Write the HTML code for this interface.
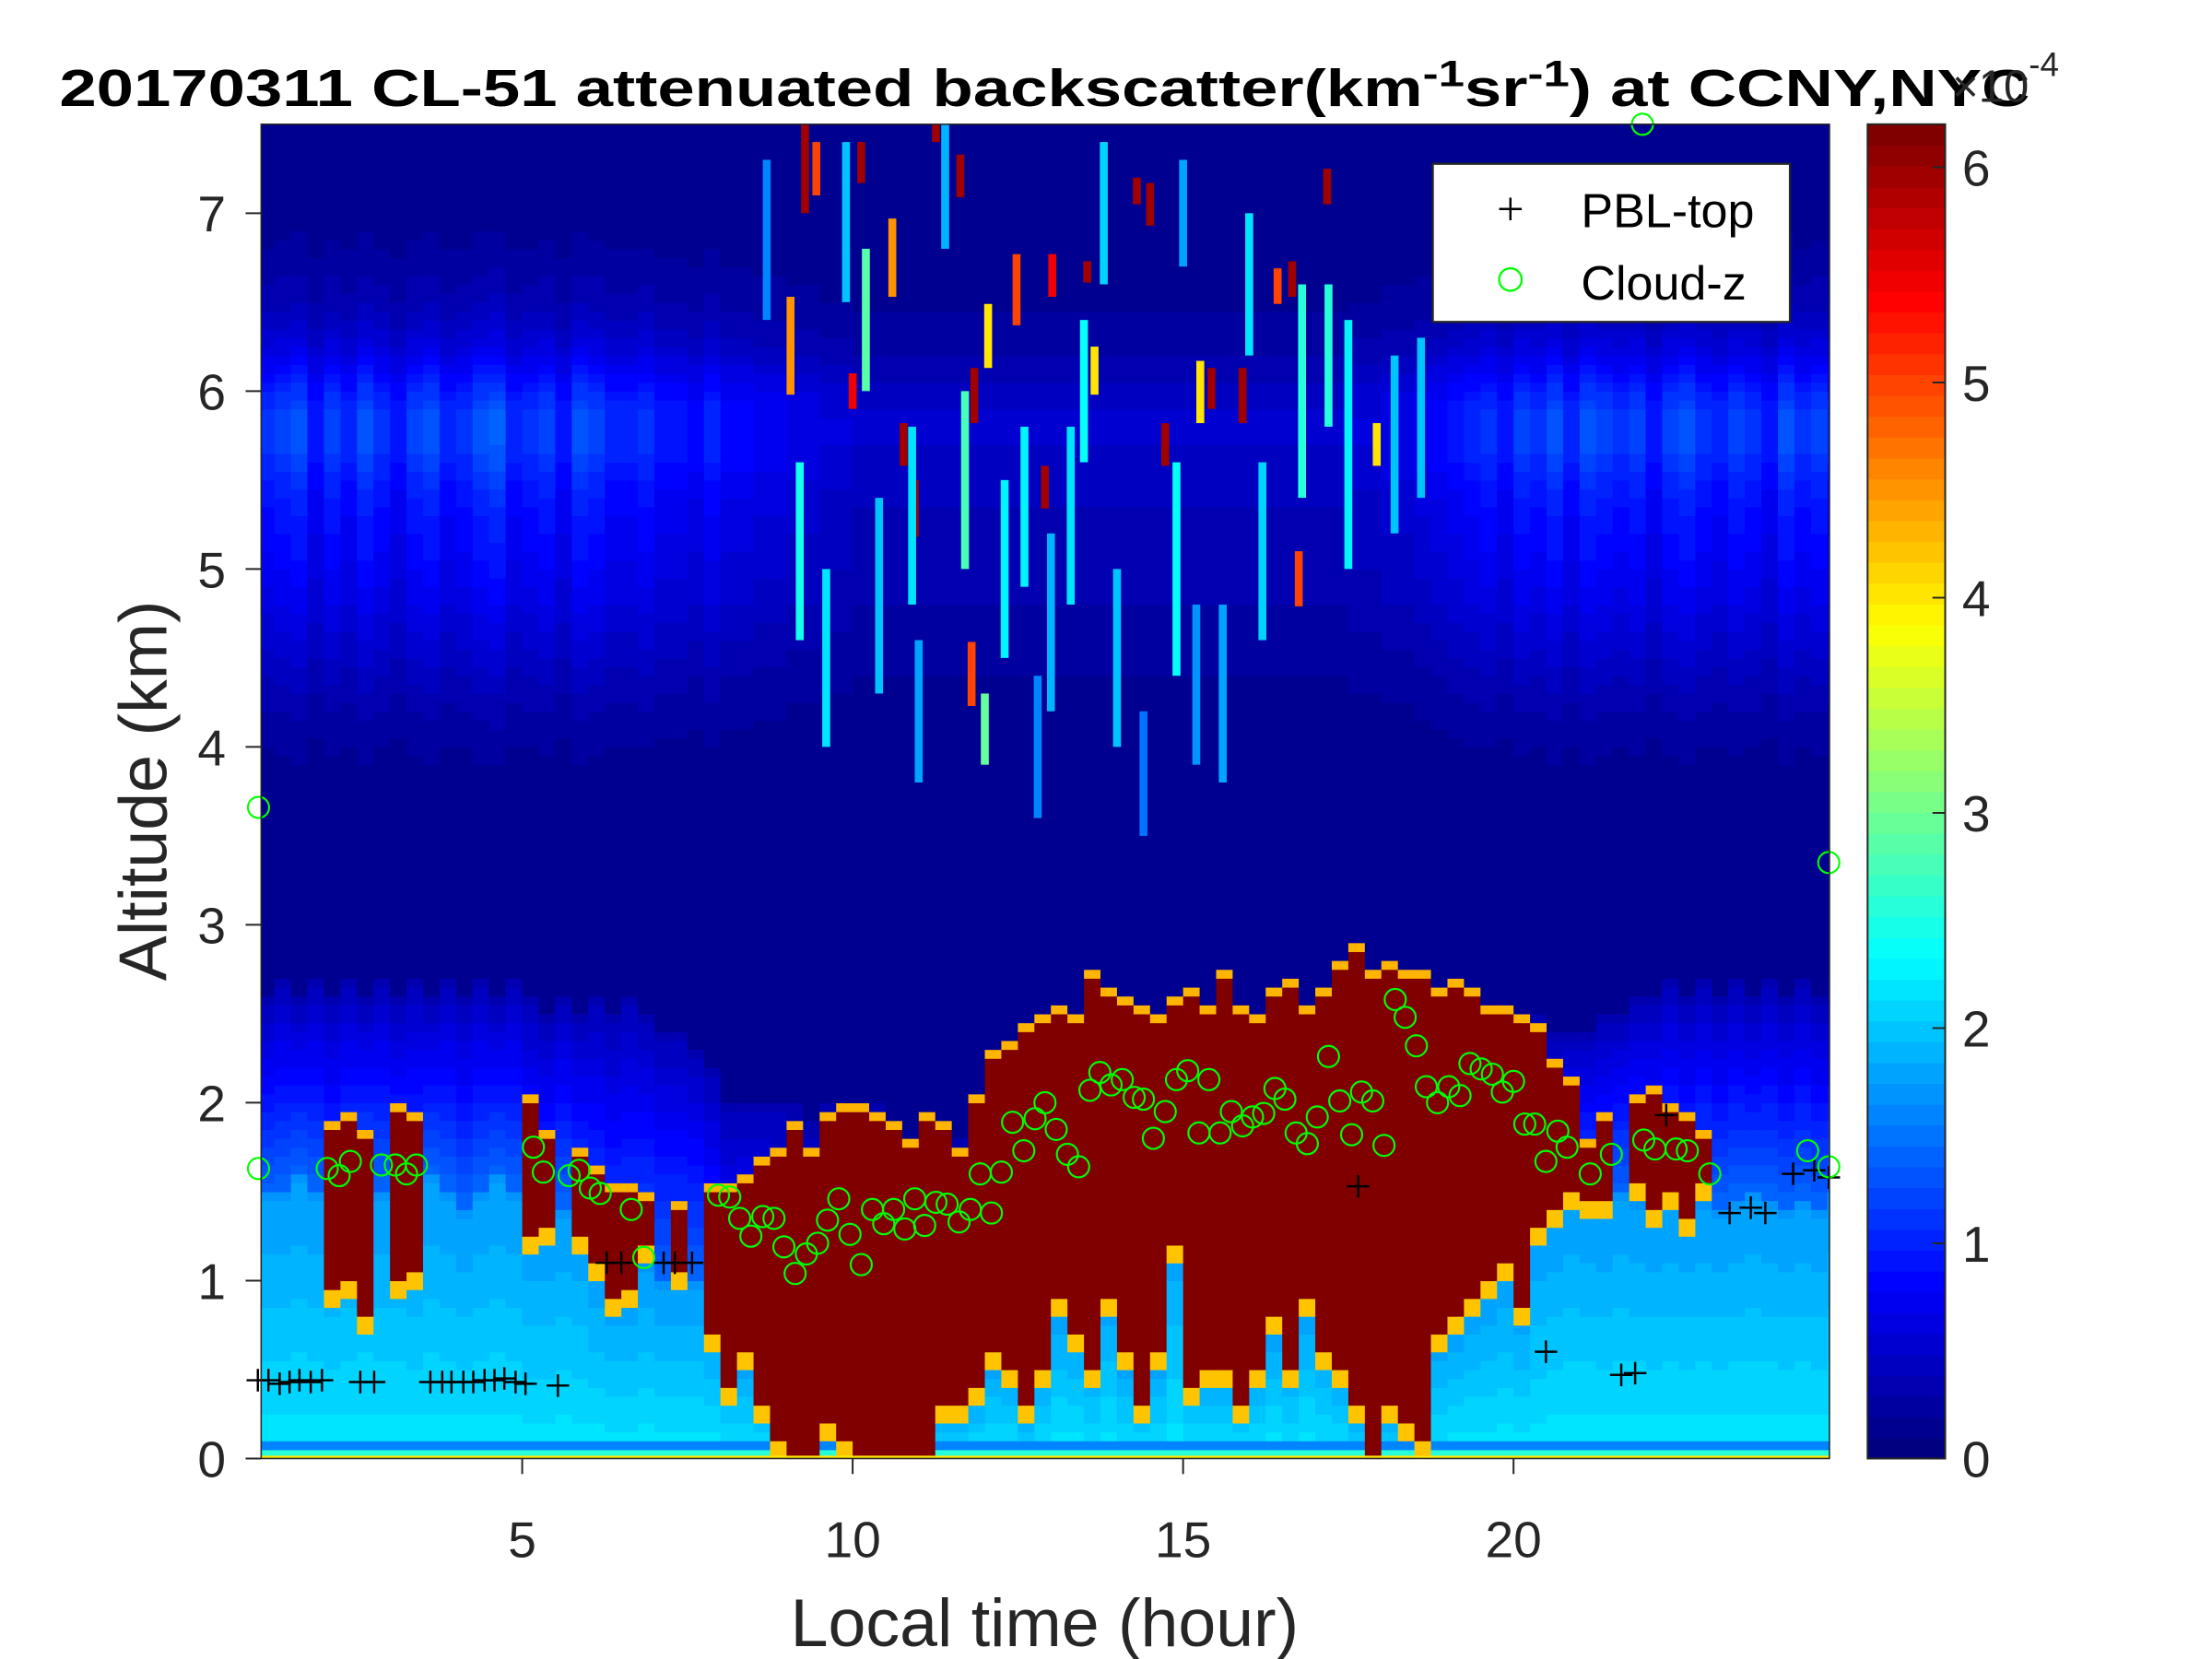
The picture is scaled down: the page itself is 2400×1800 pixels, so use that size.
<!DOCTYPE html>
<html><head><meta charset="utf-8"><style>
html,body{margin:0;padding:0;background:#fff;}
svg{display:block;}
text{font-family:"Liberation Sans",Arial,sans-serif;}
</style></head><body>
<svg id="chart" xmlns="http://www.w3.org/2000/svg" width="2400" height="1800" viewBox="0 0 1567 1175" preserveAspectRatio="none">
<text x="42" y="75" font-size="37" font-weight="bold" fill="#000" textLength="1396" lengthAdjust="spacingAndGlyphs">20170311  CL-51 attenuated backscatter(km<tspan dy="-14" font-size="26">-1</tspan><tspan dy="14">sr</tspan><tspan dy="-14" font-size="26">-1</tspan><tspan dy="14">) at CCNY,NYC</tspan></text>
<g id="heat"></g>
<g id="streaks"></g>
<g id="pbl"></g>
<g id="cloud"></g>
<rect x="185" y="88" width="1111" height="945" fill="none" stroke="#262626" stroke-width="1"/>
<g id="xaxis"></g>
<g id="yaxis"></g>
<text transform="translate(118,560) rotate(-90)" text-anchor="middle" font-size="48" fill="#262626">Altitude (km)</text>
<text x="740" y="1166" text-anchor="middle" font-size="48" fill="#262626">Local time (hour)</text>
<g id="cbar"></g>
<text x="1383" y="72" font-size="32" fill="#262626">×10<tspan dy="-18" font-size="24">-4</tspan></text>
<g>
<rect x="1015" y="116" width="253" height="112" fill="#fff" stroke="#262626" stroke-width="1.5"/>
<g>
<path d="M1062 148 H1078 M1070 140 V156" stroke="#000" stroke-width="1.6"/>
<text x="1120" y="161" font-size="34" fill="#000">PBL-top</text></g>
<g>
<circle cx="1070" cy="198" r="8" fill="none" stroke="#00ff00" stroke-width="1.5"/>
<text x="1120" y="212" font-size="34" fill="#000">Cloud-z</text></g>
</g>
</svg>
<script>
// ---- data ----
const colT0 = 1.0, colDT = 0.25;
const redBot = [null,null,null,null,0.95,1.0,0.8,null,1.0,1.05,null,null,null,null,null,null,1.25,1.3,null,1.25,1.1,0.9,0.95,1.2,null,1.05,null,0.7,0.4,0.6,0.3,0.1,0,0,0.2,0.1,0,0,0,0,0,0.3,0.3,0.4,0.6,0.5,0.3,0.5,0.9,0.7,0.5,0.9,0.6,0.3,0.6,1.2,0.4,0.5,0.5,0.3,0.5,0.8,0.5,0.9,0.6,0.5,0.3,0,0.3,0.2,0.1,0.7,0.8,0.9,1.0,1.1,0.85,1.3,1.4,1.5,1.45,1.45,null,1.55,1.4,1.5,1.35,1.55,null,null,null,null,null,null,null,null];
const redTop = [null,null,null,null,1.85,1.9,1.8,null,1.95,1.9,null,null,null,null,null,null,2.0,1.8,null,1.7,1.6,1.5,1.5,1.45,null,1.4,null,1.5,1.5,1.55,1.65,1.7,1.85,1.7,1.9,1.95,1.95,1.9,1.85,1.75,1.9,1.85,1.7,2.0,2.25,2.3,2.4,2.45,2.5,2.45,2.7,2.6,2.55,2.5,2.45,2.55,2.6,2.5,2.7,2.5,2.45,2.6,2.65,2.5,2.6,2.75,2.85,2.7,2.75,2.7,2.7,2.6,2.65,2.6,2.5,2.5,2.45,2.4,2.2,2.1,1.75,1.9,null,2.0,2.05,1.95,1.9,1.8,null,null,null,null,null,null,null,null];
const lowTop = [1.5,1.5,1.6,1.5,1.4,1.5,1.6,1.5,1.5,1.4,1.6,1.5,1.4,1.5,1.6,1.5,1.3,1.3,1.4,1.3,1.1,1.0,1.0,1.1,1.0,1.0,1.0,0.8,0.5,0.6,0.4,0.2,0,0,0.2,0.2,0,0,0,0,0,0.3,0.3,0.4,0.6,0.5,0.3,0.5,0.9,0.8,0.6,1.0,0.6,0.4,0.6,1.3,0.5,0.5,0.5,0.4,0.5,0.8,0.6,0.9,0.7,0.5,0.3,0.1,0.3,0.2,0.2,0.7,0.8,0.9,1.0,1.1,0.9,1.3,1.4,1.5,1.45,1.4,1.5,1.45,1.4,1.45,1.4,1.45,1.4,1.45,1.5,1.45,1.4,1.45,1.4,1.5];
const hazeTop = [2.6,2.7,2.6,2.7,2.6,2.7,2.6,2.7,2.6,2.7,2.6,2.7,2.6,2.7,2.6,2.7,2.6,2.5,2.6,2.5,2.6,2.5,2.6,2.5,2.4,2.4,2.3,2.2,2.0,2.0,2.0,2.0,2.0,1.9,2.0,2.0,2.0,2.0,1.9,1.8,1.9,1.9,1.8,2.0,2.3,2.3,2.4,2.5,2.5,2.5,2.7,2.6,2.6,2.5,2.5,2.6,2.6,2.5,2.7,2.5,2.5,2.6,2.7,2.5,2.6,2.8,2.9,2.7,2.8,2.7,2.7,2.6,2.7,2.6,2.5,2.5,2.5,2.5,2.4,2.4,2.4,2.5,2.5,2.6,2.6,2.7,2.6,2.7,2.6,2.7,2.6,2.7,2.6,2.7,2.6,2.7];
const bandV = [1.2,1.3,1.4,1.0,1.3,1.1,1.4,1.2,1.0,1.3,1.4,1.1,1.2,1.4,1.5,1.1,1.2,1.3,1.0,1.4,1.3,1.1,1.1,1.2,1.0,1.0,0.9,1.1,0.9,0.9,0.8,0.8,0.7,0.7,0.6,0.6,0.5,0.5,0.5,0.5,0.5,0.5,0.5,0.5,0.5,0.5,0.5,0.5,0.5,0.5,0.5,0.5,0.5,0.5,0.5,0.5,0.5,0.5,0.5,0.5,0.5,0.5,0.5,0.5,0.5,0.5,0.6,0.6,0.7,0.7,0.8,0.9,1.0,1.1,1.2,1.0,1.3,1.2,1.4,1.1,1.4,1.3,1.2,1.3,1.0,1.3,1.4,1.2,1.1,1.3,1.2,1.0,1.4,1.2,1.3,1.1];
const streakT  = [9.28,9.45,9.06,10.0,10.13,10.6,10.77,10.94,11.26,11.63,11.84,12.05,11.8,12.48,13.02,12.91,13.55,13.66,14.3,14.5,14.73,15.26,15.43,15.9,16.43,16.65,16.75,17.18,17.93,9.6,10.4,11.0,12.3,12.8,13.3,14.0,14.9,15.6,16.2,17.5,18.2,8.7,9.9,11.4,13.8,15.0,16.8,12.0,10.9,13.0,14.4,9.2,11.7,13.5,15.2,16.0,17.2,18.6,10.2,12.6];
const streakZ0 = [7.0,7.1,5.98,5.9,7.17,6.53,5.58,5.18,7.4,7.09,5.82,6.13,4.23,6.37,6.53,5.34,6.61,5.98,7.05,6.93,5.58,5.82,5.9,5.82,6.49,6.53,4.79,7.05,5.58,4.0,4.3,3.8,4.5,3.6,4.8,4.0,4.4,3.8,4.6,5.0,5.2,6.4,6.5,6.8,6.6,6.7,5.4,3.9,4.8,4.2,3.5,4.6,5.0,5.6,3.9,6.2,5.8,5.4,6.0,4.9];
const streakZ1 = [7.5,7.4,6.53,6.1,7.4,6.97,5.82,5.5,7.5,7.33,6.13,6.49,4.59,6.77,6.77,5.58,6.73,6.25,7.2,7.17,5.82,6.17,6.13,6.13,6.69,6.73,5.1,7.25,5.82,5.0,5.4,4.6,5.5,4.4,5.8,5.0,5.6,4.8,5.6,6.4,6.2,7.3,7.4,7.5,7.4,7.3,6.6,4.3,5.8,5.2,4.2,5.6,6.0,6.4,4.8,7.0,6.6,6.3,6.8,5.8];
const streakV  = [6,5,4.5,5.5,6,4.5,6,6,6,6,6,4,5,5,5.5,6,6,4,6,6,6,4,6,6,5,6,5,6,4,2.2,2.0,1.8,2.3,1.6,2.2,2.0,2.4,1.8,2.1,2.3,2.0,1.6,2.0,1.9,2.1,1.8,2.6,3.0,2.2,1.9,1.5,2.5,2.8,2.4,1.7,2.2,2.6,2.0,2.9,2.3];
const pblT = [1.0,1.16,1.33,1.48,1.63,1.80,1.97,2.55,2.76,3.61,3.79,3.93,4.11,4.26,4.43,4.58,4.73,4.90,5.05,5.54,6.28,6.50,7.14,7.31,7.57,17.65,20.49,21.63,21.84,22.31,23.27,23.59,23.81,24.23,24.55,24.77];
const pblZ = [0.44,0.44,0.42,0.43,0.44,0.43,0.44,0.43,0.43,0.43,0.43,0.43,0.43,0.43,0.44,0.44,0.45,0.43,0.42,0.41,1.1,1.1,1.1,1.1,1.1,1.53,0.6,0.47,0.48,1.93,1.38,1.41,1.38,1.6,1.62,1.58];
const cloudT = [1.01,1.01,2.05,2.23,2.40,2.87,3.08,3.25,3.40,5.17,5.32,5.71,5.86,6.03,6.18,6.65,6.84,7.97,8.14,8.29,8.46,8.64,8.81,8.96,9.13,9.30,9.47,9.62,9.79,9.96,10.13,10.30,10.47,10.62,10.79,10.94,11.09,11.26,11.43,11.61,11.78,11.93,12.10,12.25,12.42,12.59,12.76,12.91,13.08,13.25,13.42,13.59,13.74,13.91,14.08,14.26,14.40,14.55,14.73,14.90,15.07,15.24,15.39,15.56,15.73,15.90,16.05,16.22,16.39,16.54,16.71,16.88,17.03,17.20,17.37,17.55,17.70,17.87,18.04,18.21,18.36,18.53,18.68,18.85,19.02,19.19,19.34,19.51,19.68,19.83,20.00,20.17,20.32,20.49,20.67,20.81,21.16,21.48,21.97,22.14,22.46,22.63,22.97,24.45,24.77,24.77,21.95];
const cloudZ = [1.63,3.66,1.63,1.59,1.67,1.65,1.65,1.60,1.65,1.75,1.61,1.59,1.62,1.52,1.49,1.40,1.13,1.48,1.47,1.35,1.25,1.36,1.35,1.19,1.04,1.15,1.21,1.34,1.46,1.26,1.09,1.40,1.32,1.40,1.29,1.46,1.31,1.44,1.43,1.33,1.40,1.60,1.38,1.61,1.89,1.73,1.91,2.00,1.85,1.71,1.64,2.07,2.17,2.10,2.13,2.03,2.02,1.80,1.95,2.13,2.18,1.83,2.13,1.83,1.95,1.87,1.92,1.94,2.08,2.02,1.83,1.77,1.92,2.26,2.01,1.82,2.06,2.01,1.76,2.58,2.48,2.32,2.09,2.00,2.09,2.04,2.22,2.19,2.16,2.06,2.12,1.88,1.88,1.67,1.84,1.75,1.60,1.71,1.79,1.74,1.74,1.73,1.60,1.73,1.64,3.35,7.5];
const xTicks = [5,10,15,20];
const yTicks = [0,1,2,3,4,5,6,7];
const cTicks = [0,1,2,3,4,5,6];

// ---- axes ----
const X0=185, X1=1296, Y0=1033, Y1=88, TMIN=1.05, TMAX=24.78, ZMAX=7.5, VMAX=6.2;
const sx = t => X0 + (t - TMIN) / (TMAX - TMIN) * (X1 - X0);
const sy = z => Y0 - z / ZMAX * (Y0 - Y1);
const CB = {x:1323, w:55, top:88, bot:1033};
const cy = v => CB.bot - v / VMAX * (CB.bot - CB.top);
const NS = "http://www.w3.org/2000/svg";
function mk(tag, attrs, parent){const e=document.createElementNS(NS,tag);for(const k in attrs)e.setAttribute(k,attrs[k]);parent.appendChild(e);return e;}
function clamp(a){return Math.max(0,Math.min(1,a));}
function jet(v){const u=Math.max(0,Math.min(1,v/VMAX));const q=Math.round(u*63)/63;
  const r=clamp(1.5-Math.abs(4*q-3)),g=clamp(1.5-Math.abs(4*q-2)),b=clamp(1.5-Math.abs(4*q-1));
  return `rgb(${Math.round(r*255)},${Math.round(g*255)},${Math.round(b*255)})`;}

function cellValue(i,z){
  const rb=redBot[i], rt=redTop[i];
  if(rb!==null && rt!==null){
    if(z>=rb && z<=rt) return 6.2;
    if(z>rt && z<rt+0.06) return 4.3;
    if(z<rb && z>rb-0.1) return 4.2;
  }
  let v=0.12;
  const lt=lowTop[i], ht=hazeTop[i];
  if(z<0.03) v=2.6;
  else if(z<0.12) v=1.6;
  else if(z<lt) v=2.2-0.5*z/Math.max(lt,0.3);
  else if(z<ht){const f=(z-lt)/Math.max(ht-lt,0.1); v=Math.max(v,1.4*(1-f)+0.3*f);}
  const b1=(z-5.4)/1.1, b2=(z-5.85)/0.35;
  v=Math.max(v, bandV[i]*(0.65*Math.exp(-b1*b1)+0.35*Math.exp(-b2*b2)));
  return v;
}
// heatmap
const heat=document.getElementById('heat');
const DZ=0.05, NR=Math.round(ZMAX/DZ);
for(let i=0;i<redTop.length;i++){
  const t0=colT0+i*colDT, t1=t0+colDT;
  const xa=Math.max(X0,sx(t0)), xb=Math.min(X1,sx(t1));
  if(xb<=xa) continue;
  let runStart=0, runCol=jet(cellValue(i,DZ/2));
  for(let j=1;j<=NR;j++){
    const col = j<NR ? jet(cellValue(i,(j+0.5)*DZ)) : null;
    if(col!==runCol){
      const r=mk('rect',{x:xa.toFixed(2),y:sy(j*DZ).toFixed(2),width:(xb-xa+0.4).toFixed(2),height:(sy(runStart*DZ)-sy(j*DZ)+0.4).toFixed(2),fill:runCol},heat);
      
      
      runStart=j; runCol=col;
    }
  }
}
// thin yellow ground line
const gl=mk('rect',{x:X0,y:Y0-2,width:X1-X0,height:2,fill:jet(4.0)},heat);


// streaks
const sg=document.getElementById('streaks');
for(let k=0;k<streakT.length;k++){
  const xa=sx(streakT[k]-0.06), xb=sx(streakT[k]+0.06);
  const r=mk('rect',{x:xa.toFixed(2),y:sy(streakZ1[k]).toFixed(2),width:(xb-xa).toFixed(2),height:(sy(streakZ0[k])-sy(streakZ1[k])).toFixed(2),fill:jet(streakV[k])},sg);
  
  
}
// pbl markers
const pg=document.getElementById('pbl');
for(let k=0;k<pblT.length;k++){
  const x=sx(pblT[k]), y=sy(pblZ[k]);
  const p=mk('path',{d:`M${x-8} ${y} H${x+8} M${x} ${y-8} V${y+8}`,stroke:'#000','stroke-width':1.6,fill:'none'},pg);
  
  
}
// cloud markers
const cg=document.getElementById('cloud');
for(let k=0;k<cloudT.length;k++){
  const c=mk('circle',{cx:sx(cloudT[k]).toFixed(2),cy:sy(cloudZ[k]).toFixed(2),r:7.5,fill:'none',stroke:'#00ff00','stroke-width':1.4},cg);
  
  
}
// axes
const xg=document.getElementById('xaxis');
xTicks.forEach(t=>{
  const x=sx(t);
  const l=mk('line',{x1:x,x2:x,y1:Y0,y2:Y0+11,stroke:'#262626','stroke-width':1.3},xg);
  
  
  const tx=mk('text',{x:x,y:1103,'text-anchor':'middle','font-size':36,fill:'#262626'},xg);
  tx.textContent=t;
  
  
});
const yg=document.getElementById('yaxis');
yTicks.forEach(z=>{
  const y=sy(z);
  const l=mk('line',{x1:X0-11,x2:X0,y1:y,y2:y,stroke:'#262626','stroke-width':1.3},yg);
  
  
  const tx=mk('text',{x:160,y:y+13,'text-anchor':'end','font-size':36,fill:'#262626'},yg);
  tx.textContent=z;
  
  
});
// colorbar
const cbg=document.getElementById('cbar');
for(let s=0;s<64;s++){
  const v0=s/64*VMAX, v1=(s+1)/64*VMAX;
  const r=mk('rect',{x:CB.x,y:cy(v1).toFixed(2),width:CB.w,height:(cy(v0)-cy(v1)+0.5).toFixed(2),fill:jet((s+0.5)/64*VMAX)},cbg);
  
  
}
const cbf=mk('rect',{x:CB.x,y:CB.top,width:CB.w,height:CB.bot-CB.top,fill:'none',stroke:'#262626','stroke-width':1.3},cbg);


cTicks.forEach(v=>{
  const y=cy(v);
  const l=mk('line',{x1:CB.x+CB.w-9,x2:CB.x+CB.w,y1:y,y2:y,stroke:'#262626','stroke-width':1.3},cbg);
  
  
  const tx=mk('text',{x:1390,y:y+13,'font-size':36,fill:'#262626'},cbg);
  tx.textContent=v;
  
  
});
</script>
</body></html>
